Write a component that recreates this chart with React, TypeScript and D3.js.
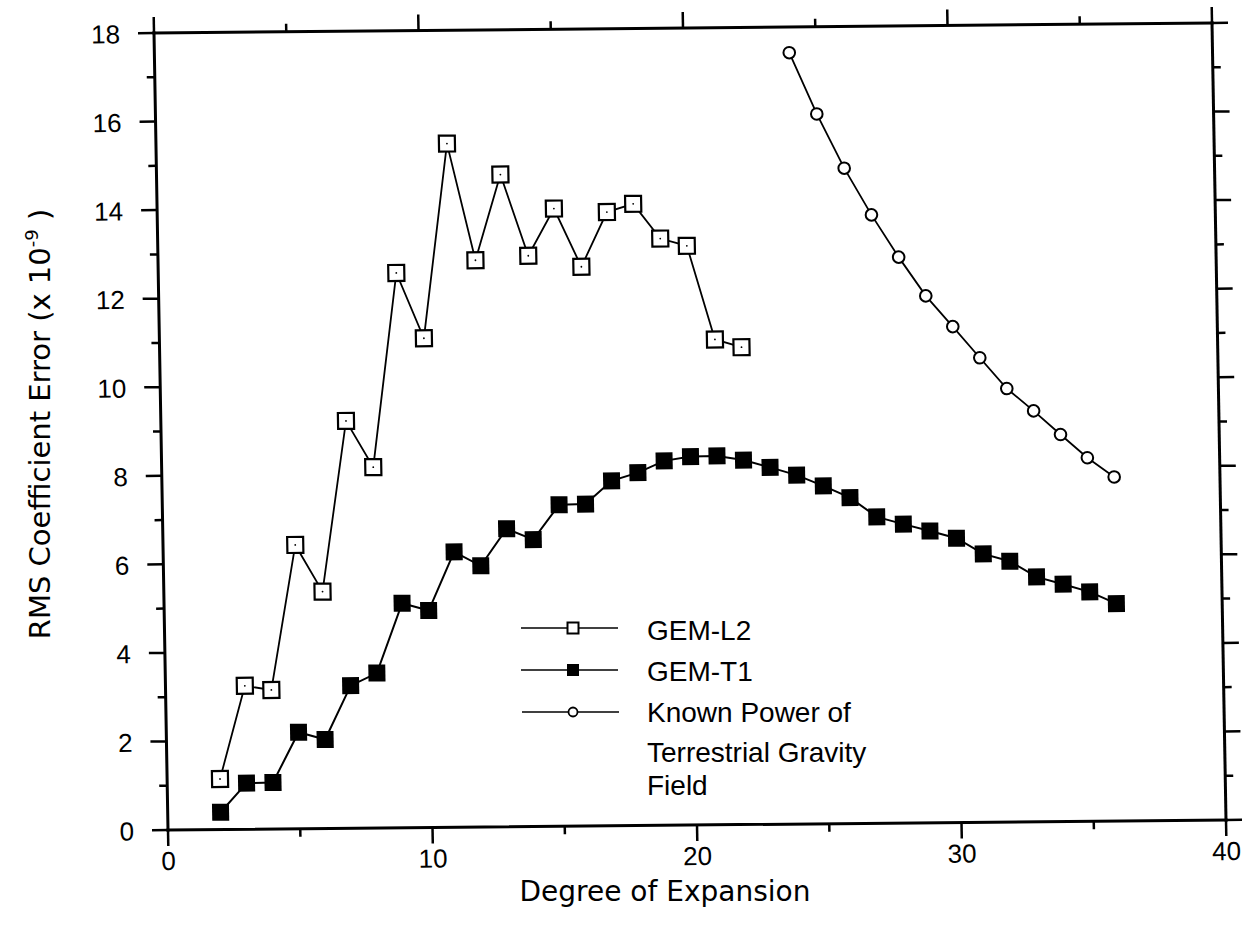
import React from 'react';
import * as d3 from 'd3';

const degreesL2 = [2, 3, 4, 5, 6, 7, 8, 9, 10, 11, 12, 13, 14, 15, 16, 17, 18, 19, 20, 21, 22];
const gemL2 = [1.14, 3.24, 3.14, 6.41, 5.35, 9.2, 8.15, 12.53, 11.05, 15.44, 12.8, 14.73, 12.89, 13.95, 12.63, 13.86, 14.04, 13.25, 13.08, 10.96, 10.78];

const degreesT1 = [2, 3, 4, 5, 6, 7, 8, 9, 10, 11, 12, 13, 14, 15, 16, 17, 18, 19, 20, 21, 22, 23, 24, 25, 26, 27, 28, 29, 30, 31, 32, 33, 34, 35, 36];
const gemT1 = [0.39, 1.04, 1.05, 2.18, 2.01, 3.22, 3.5, 5.07, 4.9, 6.22, 5.9, 6.73, 6.48, 7.26, 7.27, 7.79, 7.97, 8.23, 8.32, 8.33, 8.23, 8.06, 7.88, 7.63, 7.36, 6.92, 6.75, 6.59, 6.42, 6.06, 5.89, 5.53, 5.36, 5.18, 4.91];

const degreesKnown = [24, 25, 26, 27, 28, 29, 30, 31, 32, 33, 34, 35, 36];
const knownPower = [17.42, 16.03, 14.8, 13.74, 12.78, 11.9, 11.2, 10.49, 9.79, 9.28, 8.74, 8.21, 7.77];

const xTickValues = [0, 5, 10, 15, 20, 25, 30, 35, 40];
const xTickLabels = ['0', '10', '20', '30', '40'];
const yTickValues = [0, 1, 2, 3, 4, 5, 6, 7, 8, 9, 10, 11, 12, 13, 14, 15, 16, 17, 18];
const yTickLabels = ['0', '2', '4', '6', '8', '10', '12', '14', '16', '18'];

const legendLabels = ['GEM-L2', 'GEM-T1', 'Known Power of', 'Terrestrial Gravity', 'Field'];

const W = 1058;
const H = 797;
const FONT = '"Liberation Sans", Arial, Helvetica, sans-serif';
const TITLE_FONT = '"DejaVu Sans", Verdana, sans-serif';

export default function App() {
  const x = d3.scaleLinear().domain([0, 40]).range([0, W]);
  const y = d3.scaleLinear().domain([0, 18]).range([H, 0]);
  const line = d3.line<[number, number]>().x(d => x(d[0])).y(d => y(d[1]));

  const l2: [number, number][] = degreesL2.map((d, i) => [d, gemL2[i]]);
  const t1: [number, number][] = degreesT1.map((d, i) => [d, gemT1[i]]);
  const kp: [number, number][] = degreesKnown.map((d, i) => [d, knownPower[i]]);

  const isMajorX = (v: number) => v % 10 === 0;
  const isMajorY = (v: number) => v % 2 === 0;

  const sq = 16;
  const sqL = 11;

  return (
    <svg width={1249} height={933} style={{ display: 'block', position: 'absolute', left: 0, top: 0, background: '#fff' }}>
      <rect x={0} y={0} width={1249} height={933} fill="#fff" />
      <g transform="matrix(1,-0.00945,0.01757,1,154,33)">
        <g stroke="#000" strokeWidth={3} fill="none" strokeLinecap="square">
          <line x1={0} y1={0} x2={W} y2={0} />
          <line x1={0} y1={H} x2={W} y2={H} />
          <line x1={0} y1={0} x2={0} y2={H} />
          <line x1={W} y1={0} x2={W} y2={H} />
        </g>
        <g stroke="#000" strokeWidth={2.5}>
          {xTickValues.map(v => (
            <g key={'xt' + v}>
              <line x1={x(v)} x2={x(v)} y1={H} y2={H + (isMajorX(v) ? 16 : 8)} />
              <line x1={x(v)} x2={x(v)} y1={0} y2={isMajorX(v) ? -16 : -8} />
            </g>
          ))}
          {yTickValues.map(v => (
            <g key={'yt' + v}>
              <line x1={0} x2={isMajorY(v) ? -16 : -8} y1={y(v)} y2={y(v)} />
              <line x1={W} x2={W + (isMajorY(v) ? 16 : 8)} y1={y(v)} y2={y(v)} />
            </g>
          ))}
        </g>
        <g fontFamily={FONT} fontSize={26} fill="#000">
          {xTickLabels.map(t => (
            <text key={'xl' + t} x={x(+t)} y={H + 40} textAnchor="middle">{t}</text>
          ))}
          {yTickLabels.map(t => (
            <text key={'yl' + t} x={-34} y={y(+t) + 10} textAnchor="end">{t}</text>
          ))}
        </g>
        <path d={line(l2) || ''} fill="none" stroke="#000" strokeWidth={1.8} />
        <path d={line(t1) || ''} fill="none" stroke="#000" strokeWidth={2} />
        <path d={line(kp) || ''} fill="none" stroke="#000" strokeWidth={1.8} />
        {l2.map((d, i) => (
          <g key={'l2m' + i}>
            <rect x={x(d[0]) - sq / 2} y={y(d[1]) - sq / 2} width={sq} height={sq} fill="#fff" stroke="#000" strokeWidth={2.2} />
            <circle cx={x(d[0])} cy={y(d[1])} r={0.9} fill="#000" />
          </g>
        ))}
        {t1.map((d, i) => (
          <rect key={'t1m' + i} x={x(d[0]) - 8.5} y={y(d[1]) - 8.5} width={17} height={17} fill="#000" />
        ))}
        {kp.map((d, i) => (
          <circle key={'kpm' + i} cx={x(d[0])} cy={y(d[1])} r={5.8} fill="#fff" stroke="#000" strokeWidth={2} />
        ))}
      </g>

      <g>
        <line x1={521} x2={618} y1={628} y2={628} stroke="#000" strokeWidth={1.6} />
        <rect x={573 - sqL / 2} y={628 - sqL / 2} width={sqL} height={sqL} fill="#fff" stroke="#000" strokeWidth={2} />
        <line x1={521} x2={618} y1={670} y2={670} stroke="#000" strokeWidth={1.6} />
        <rect x={573 - 6} y={670 - 6} width={12} height={12} fill="#000" />
        <line x1={522} x2={619} y1={712} y2={712} stroke="#000" strokeWidth={1.6} />
        <circle cx={573} cy={712} r={4.5} fill="#fff" stroke="#000" strokeWidth={1.8} />
        <g fontFamily={FONT} fontSize={28} fill="#000">
          <text x={647} y={640}>{legendLabels[0]}</text>
          <text x={647} y={681}>{legendLabels[1]}</text>
          <text x={647} y={722}>{legendLabels[2]}</text>
          <text x={647} y={762}>{legendLabels[3]}</text>
          <text x={647} y={795}>{legendLabels[4]}</text>
        </g>
      </g>

      <text x={665} y={901} textAnchor="middle" fontFamily={TITLE_FONT} fontSize={28} fill="#000">Degree of Expansion</text>
      <text transform="translate(50,424) rotate(-90)" textAnchor="middle" fontFamily={TITLE_FONT} fontSize={29} fill="#000">
        RMS Coefficient Error (x 10<tspan dy={-12} fontSize={18}>-9</tspan><tspan dy={12}> )</tspan>
      </text>
    </svg>
  );
}
